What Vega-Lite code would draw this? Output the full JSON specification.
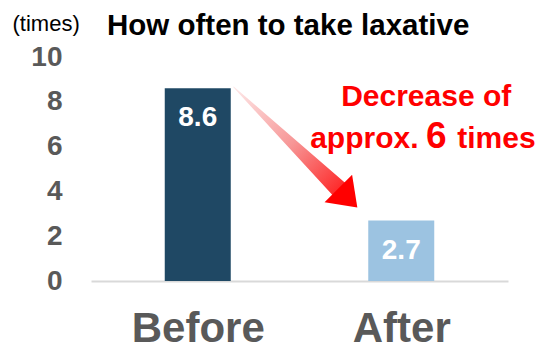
{
  "$schema": "https://vega.github.io/schema/vega-lite/v6.json",
  "width": 417,
  "height": 224,
  "autosize": "none",
  "padding": {"left": 91, "top": 57, "right": 33, "bottom": 67},
  "background": "white",
  "config": {
    "view": {"stroke": null},
    "font": "Liberation Sans"
  },
  "title": {
    "text": "How often to take laxative",
    "anchor": "start",
    "frame": "group",
    "dx": 16,
    "offset": -29,
    "font": "Liberation Sans",
    "fontSize": 29.5,
    "fontWeight": "bold",
    "color": "#000000"
  },
  "datasets": {
    "bars": [
      {"stage": "Before", "pos": 1, "value": 8.6},
      {"stage": "After", "pos": 3, "value": 2.7}
    ],
    "shaft": [
      {"x": 1.353, "y": 8.66, "t": 0},
      {"x": 2.417, "y": 3.97, "t": 1}
    ],
    "head": [
      {"x": 2.475, "y": 3.705}
    ],
    "note": [
      {"part": "Decrease of", "x": 3.245, "y": 7.81, "big": false, "anchor": "center"},
      {"part": "approx.", "x": 3.17, "y": 5.94, "big": false, "anchor": "right"},
      {"part": "6", "x": 3.345, "y": 5.94, "big": true, "anchor": "center"},
      {"part": "times", "x": 3.55, "y": 5.94, "big": false, "anchor": "left"}
    ]
  },
  "layer": [
    {
      "data": {"name": "bars"},
      "mark": {"type": "bar", "size": 66},
      "encoding": {
        "x": {
          "field": "pos",
          "type": "quantitative",
          "scale": {"domain": [0, 4], "nice": false, "zero": false},
          "axis": {
            "title": null,
            "values": [1, 3],
            "labelExpr": "datum.value == 1 ? 'Before' : 'After'",
            "labelFont": "Liberation Sans",
            "labelFontSize": 42,
            "labelFontWeight": "bold",
            "labelColor": "#595959",
            "labelPadding": 27,
            "ticks": false,
            "grid": false,
            "domainColor": "#d9d9d9",
            "domainWidth": 2
          }
        },
        "y": {
          "field": "value",
          "type": "quantitative",
          "scale": {"domain": [0, 10], "nice": false},
          "axis": {
            "title": "(times)",
            "titleAngle": 0,
            "titleX": -79,
            "titleY": -27,
            "titleAlign": "left",
            "titleBaseline": "alphabetic",
            "titleFont": "Liberation Sans",
            "titleFontSize": 22,
            "titleFontWeight": "normal",
            "titleColor": "#000000",
            "values": [0, 2, 4, 6, 8, 10],
            "labelFont": "Liberation Sans",
            "labelFontSize": 28,
            "labelFontWeight": "bold",
            "labelColor": "#595959",
            "labelPadding": 29,
            "ticks": false,
            "grid": false,
            "domain": false
          }
        },
        "color": {
          "field": "stage",
          "type": "nominal",
          "scale": {"domain": ["Before", "After"], "range": ["#1f4864", "#9cc3e1"]},
          "legend": null
        }
      }
    },
    {
      "data": {"name": "bars"},
      "mark": {
        "type": "text",
        "baseline": "top",
        "dy": 16,
        "font": "Liberation Sans",
        "fontSize": 28,
        "fontWeight": "bold",
        "color": "white"
      },
      "encoding": {
        "x": {"field": "pos", "type": "quantitative"},
        "y": {"field": "value", "type": "quantitative"},
        "text": {"field": "value", "type": "quantitative", "format": ".1f"}
      }
    },
    {
      "data": {"name": "shaft"},
      "mark": {
        "type": "trail",
        "color": {
          "gradient": "linear",
          "x1": 0, "y1": 0, "x2": 1, "y2": 1,
          "stops": [
            {"offset": 0, "color": "#fde9e9"},
            {"offset": 0.5, "color": "#f79696"},
            {"offset": 1, "color": "#ff1010"}
          ]
        }
      },
      "encoding": {
        "x": {"field": "x", "type": "quantitative"},
        "y": {"field": "y", "type": "quantitative"},
        "order": {"field": "t", "type": "quantitative"},
        "size": {
          "field": "t",
          "type": "quantitative",
          "scale": {"domain": [0, 1], "range": [1, 18]},
          "legend": null
        }
      }
    },
    {
      "data": {"name": "head"},
      "mark": {
        "type": "point",
        "shape": "M1,0L-1,-1.45L-1,1.45Z",
        "filled": true,
        "opacity": 1,
        "color": "#ff0000",
        "size": 720,
        "angle": 45
      },
      "encoding": {
        "x": {"field": "x", "type": "quantitative"},
        "y": {"field": "y", "type": "quantitative"}
      }
    },
    {
      "data": {"name": "note"},
      "mark": {
        "type": "text",
        "baseline": "alphabetic",
        "align": {"expr": "datum.anchor"},
        "font": "Liberation Sans",
        "fontWeight": "bold",
        "color": "#ff0000"
      },
      "encoding": {
        "x": {"field": "x", "type": "quantitative"},
        "y": {"field": "y", "type": "quantitative"},
        "text": {"field": "part"},
        "size": {
          "field": "big",
          "type": "nominal",
          "scale": {"domain": [false, true], "range": [30, 37]},
          "legend": null
        }
      }
    }
  ]
}
